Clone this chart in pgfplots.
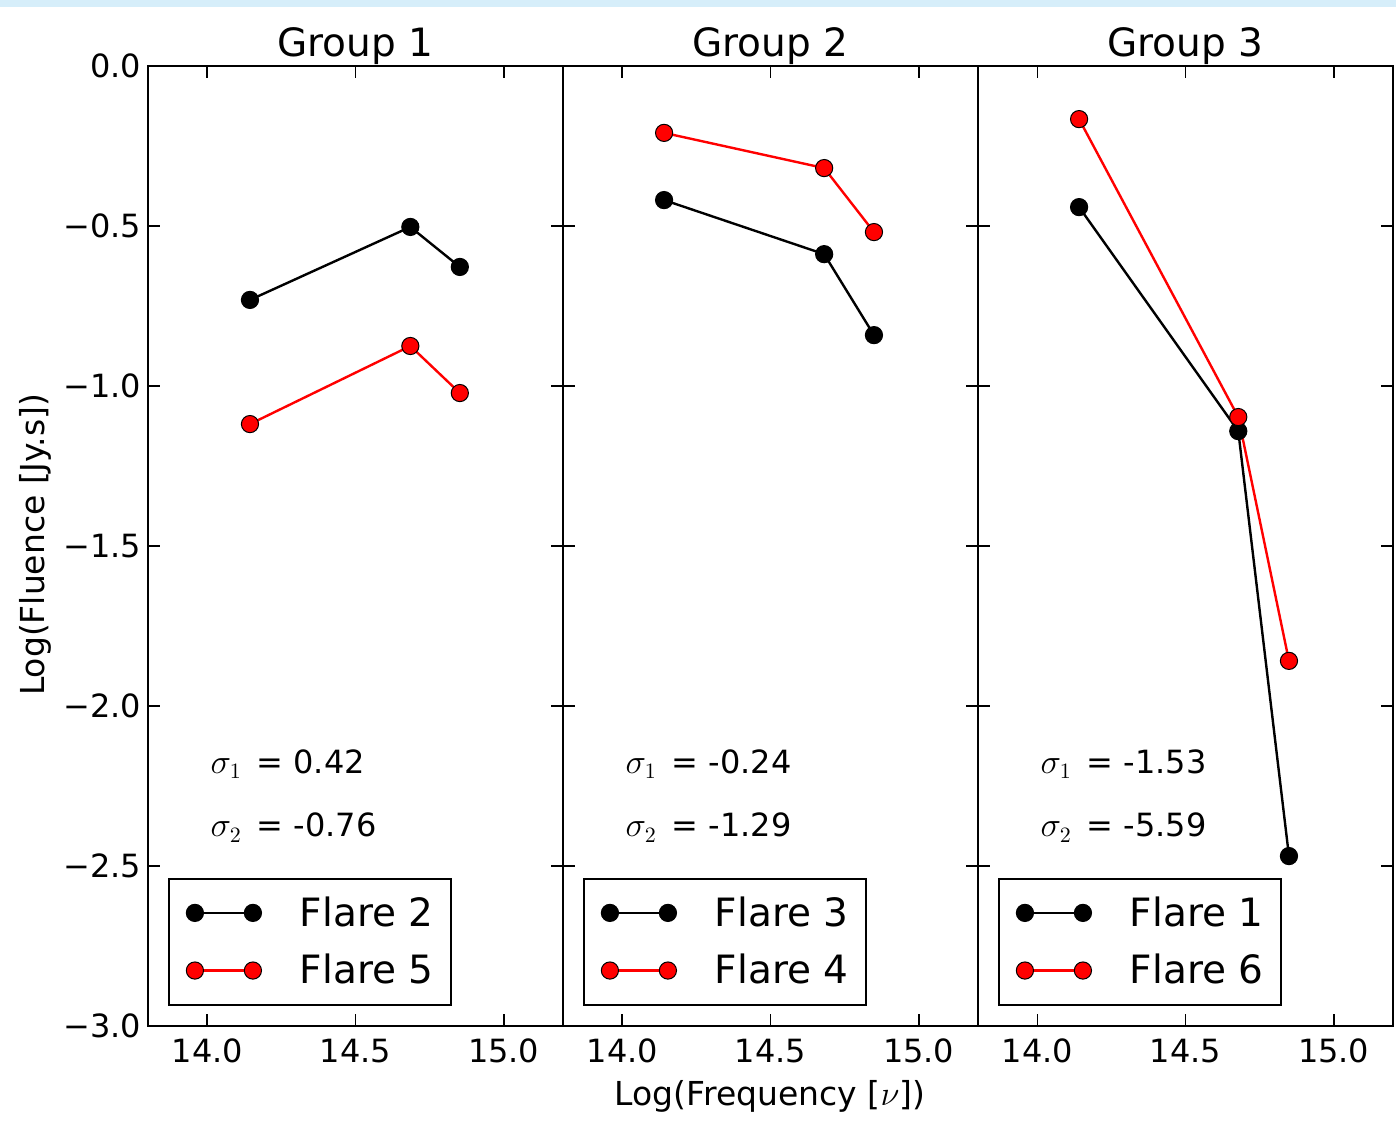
\documentclass[border=0pt]{standalone}
\usepackage{pgfplots}
\pgfplotsset{compat=1.18}
\usepackage{fontspec}
\setmainfont{DejaVu Sans}
\definecolor{topband}{RGB}{214,238,250}
\definecolor{myred}{RGB}{255,0,0}
\tikzset{sig/.style={anchor=base west, inner sep=0pt, font=\fontsize{16}{19}\selectfont}}
\pgfplotsset{
  panel/.style={
    scale only axis, width=207.5pt, height=480pt,
    xmin=13.8, xmax=15.2, ymin=-3, ymax=0,
    xtick={14,14.5,15}, xticklabels={14.0,14.5,15.0},
    ytick={0,-0.5,-1,-1.5,-2,-2.5,-3},
    tick align=inside, major tick length=6pt,
    tick style={black, line width=0.8pt},
    axis line style={line width=1pt},
    ticklabel style={font=\fontsize{16}{19}\selectfont},
    xticklabel style={yshift=-3pt},
    title style={font=\fontsize{19.5}{23}\selectfont, at={(0.5,1)}, anchor=base, yshift=-1.5pt},
    legend image code/.code={\draw[mark repeat=1,##1] plot coordinates {(0pt,0pt) (29pt,0pt)};
      \path[draw=none,fill=none] (-6pt,0pt) rectangle (50.5pt,0.1pt);},
    legend style={at={(0.048,0.021)}, anchor=south west, draw=black, line width=1pt,
      font=\fontsize{19.5}{23}\selectfont, row sep=8.5pt, inner xsep=7pt, inner ysep=7pt},
    legend cell align=left,
  },
  blk/.style={black, line width=1.2pt, mark=*, mark size=4.3pt, mark options={fill=black, draw=black, line width=0.5pt}},
  rd/.style={myred, line width=1.2pt, mark=*, mark size=4.3pt, mark options={fill=myred, draw=black, line width=0.5pt}},
}
\begin{document}
\begin{tikzpicture}[x=1pt,y=1pt]
\path[use as bounding box] (0,0) rectangle (698,560);
\fill[topband] (0,556.5) rectangle (698,560);

\begin{axis}[panel, at={(74pt,47pt)}, anchor=south west, title={Group 1},
  yticklabels={0.0,−0.5,−1.0,−1.5,−2.0,−2.5,−3.0}]
\addplot[blk] coordinates {(14.144,-0.731) (14.685,-0.503) (14.852,-0.628)};
\addlegendentry{Flare 2}
\addplot[rd] coordinates {(14.144,-1.119) (14.685,-0.875) (14.852,-1.022)};
\addlegendentry{Flare 5}
\node[sig] at (rel axis cs:0.15,0.2635) {$\sigma_1$\hspace{7.5pt}=\hspace{5pt}0.42};
\node[sig] at (rel axis cs:0.15,0.197) {$\sigma_2$\hspace{7.5pt}=\hspace{5pt}-0.76};
\end{axis}

\begin{axis}[panel, at={(281.5pt,47pt)}, anchor=south west, title={Group 2}, yticklabels={}]
\addplot[blk] coordinates {(14.141,-0.419) (14.681,-0.588) (14.849,-0.841)};
\addlegendentry{Flare 3}
\addplot[rd] coordinates {(14.141,-0.209) (14.681,-0.319) (14.849,-0.519)};
\addlegendentry{Flare 4}
\node[sig] at (rel axis cs:0.15,0.2635) {$\sigma_1$\hspace{7.5pt}=\hspace{5pt}-0.24};
\node[sig] at (rel axis cs:0.15,0.197) {$\sigma_2$\hspace{7.5pt}=\hspace{5pt}-1.29};
\end{axis}

\begin{axis}[panel, at={(489pt,47pt)}, anchor=south west, title={Group 3}, yticklabels={}]
\addplot[blk] coordinates {(14.141,-0.441) (14.678,-1.141) (14.849,-2.469)};
\addlegendentry{Flare 1}
\addplot[rd] coordinates {(14.141,-0.166) (14.678,-1.097) (14.849,-1.859)};
\addlegendentry{Flare 6}
\node[sig] at (rel axis cs:0.15,0.2635) {$\sigma_1$\hspace{7.5pt}=\hspace{5pt}-1.53};
\node[sig] at (rel axis cs:0.15,0.197) {$\sigma_2$\hspace{7.5pt}=\hspace{5pt}-5.59};
\end{axis}

\node[rotate=90, anchor=base, font=\fontsize{16.5}{19}\selectfont] at (22,287.5) {Log(Fluence [Jy.s])};
\node[anchor=base, font=\fontsize{16.5}{19}\selectfont] at (385,7.5) {Log(Frequency [$\nu$])};
\end{tikzpicture}
\end{document}
